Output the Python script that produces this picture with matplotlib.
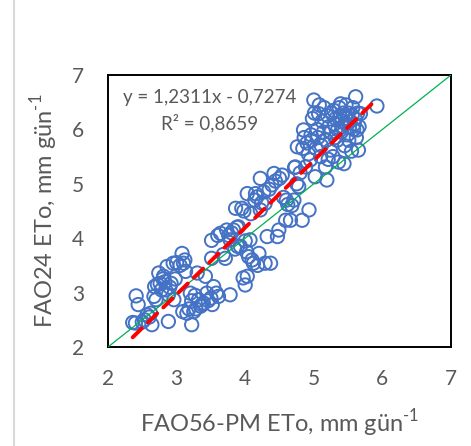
import matplotlib
matplotlib.use("Agg")
import matplotlib.pyplot as plt
import numpy as np
from matplotlib.lines import Line2D

# FAO56-PM ETo (x) vs FAO24 ETo (y), mm/day
fao56 = [
    2.36, 2.40, 2.41, 2.44, 2.50, 2.53, 2.57, 2.60, 2.64, 2.62, 2.67, 2.68, 2.70, 2.72, 2.74, 2.76,
    2.78, 2.80, 2.81, 2.83, 2.84, 2.86, 2.88, 2.88, 2.90, 2.92, 2.95, 2.96, 2.98, 3.00, 3.05, 3.08,
    3.10, 3.12, 3.09, 3.13, 3.15, 3.18, 3.20, 3.22, 3.22, 3.25, 3.27, 3.28, 3.30, 3.32, 3.35, 3.37,
    3.39, 3.42, 3.44, 3.46, 3.50, 3.52, 3.54, 3.58, 3.61, 3.78,
    3.51, 3.51, 3.60, 3.64, 3.68, 3.71, 3.73, 3.76, 3.78, 3.80, 3.83, 3.85, 3.86, 3.88, 3.89, 3.90,
    3.93, 3.95, 3.97, 3.98, 4.00, 4.00, 4.02, 4.03, 4.03, 4.05, 4.07, 4.08, 4.10, 4.12, 4.14, 4.15,
    4.17, 4.18, 4.20, 4.22, 4.22, 4.24, 4.27, 4.29, 4.29, 4.32, 4.35, 4.37, 4.39, 4.42, 4.44, 4.47,
    4.49, 4.50, 4.54, 4.56, 4.59, 4.60, 4.62, 4.66, 4.68,
    4.71, 4.72, 4.73, 4.75, 4.76, 4.78, 4.80, 4.83, 4.84, 4.85, 4.86, 4.88, 4.90, 4.92, 4.93, 4.95,
    4.96, 4.97, 4.98, 5.00, 5.01, 5.02, 5.03, 5.05, 5.06, 5.07, 5.08, 5.10, 5.11, 5.12, 5.14, 5.15,
    5.17, 5.18, 5.19, 5.20, 5.21, 5.22, 5.24, 5.25, 5.26, 5.28, 5.29, 5.30, 5.31, 5.32, 5.34, 5.35,
    5.36, 5.37, 5.38, 5.39, 5.40, 5.41, 5.42, 5.43, 5.44, 5.45, 5.46, 5.47, 5.48, 5.49, 5.50, 5.51,
    5.52, 5.53, 5.55, 5.56, 5.57, 5.58, 5.59, 5.60, 5.61, 5.62, 5.63, 5.64, 5.65, 5.66, 5.68, 5.92,
]
fao24 = [
    2.45, 2.44, 2.94, 2.78, 2.46, 2.50, 2.59, 2.55, 2.41, 2.62, 2.93, 3.11, 2.87, 3.15, 3.36, 3.17,
    3.05, 3.25, 3.30, 3.20, 3.05, 3.48, 2.96, 2.47, 3.10, 3.17, 3.54, 2.87, 3.25, 3.55, 3.50, 3.72,
    3.54, 3.60, 2.65, 3.39, 2.62, 2.70, 2.99, 2.41, 2.85, 2.65, 2.95, 2.70, 3.36, 2.87, 2.75, 2.78,
    2.81, 3.30, 2.99, 2.85, 2.90, 2.78, 3.11, 2.99, 2.93, 2.96,
    3.96, 3.63, 4.05, 4.09, 3.70, 3.63, 4.15, 4.05, 3.97, 4.10, 4.15, 3.80, 4.55, 4.20, 3.85, 4.21,
    3.85, 4.55, 3.27, 4.50, 3.14, 3.95, 3.75, 4.82, 3.30, 3.66, 3.97, 4.45, 3.60, 3.54, 4.70, 4.82,
    4.76, 3.50, 3.72, 5.10, 4.52, 4.65, 4.85, 3.54, 4.64, 4.03, 4.90, 3.54, 4.98, 5.19, 5.05, 4.03,
    4.15, 5.10, 5.16, 4.75, 4.33, 4.70, 4.62, 4.33, 4.60,
    4.70, 5.30, 5.31, 5.00, 5.68, 4.95, 5.20, 4.33, 5.65, 5.99, 5.85, 5.31, 5.75, 5.55, 4.52, 5.44,
    5.90, 5.80, 6.20, 6.54, 6.30, 5.13, 5.65, 6.00, 5.85, 6.29, 6.45, 5.50, 5.70, 6.15, 5.95, 6.40,
    5.31, 5.80, 5.07, 6.25, 5.45, 6.05, 5.62, 5.95, 6.30, 5.50, 6.35, 6.10, 5.85, 6.20, 5.80, 6.00,
    5.40, 6.40, 6.25, 6.47, 5.95, 6.15, 6.05, 6.30, 5.37, 5.70, 6.11, 6.45, 6.20, 5.90, 6.30, 5.80,
    6.05, 6.15, 5.60, 6.26, 6.40, 6.00, 6.10, 6.20, 6.60, 5.85, 5.99, 6.30, 5.62, 6.05, 6.29, 6.43,
]

slope = 1.2311
intercept = -0.7274
r2 = 0.8659
ticks = [2, 3, 4, 5, 6, 7]

plt.rcParams['font.family'] = ['Lato', 'DejaVu Sans']
plt.rcParams['mathtext.fontset'] = 'custom'
plt.rcParams['mathtext.rm'] = 'Lato'

grey = '#595959'
fig = plt.figure(figsize=(4.71, 4.46), dpi=100)
fig.patch.set_facecolor('white')
fig.add_artist(Line2D([14/471, 14/471], [0, 1], color='#d9d9d9', lw=1.5,
                      transform=fig.transFigure))
ax = fig.add_axes([108/471, 1 - 347/446, 343/471, 272/446])

ax.scatter(fao56, fao24, s=92, facecolors='none', edgecolors='#4472C4',
           linewidths=1.4, zorder=2)
ax.plot([2, 7], [2, 7], color='#00B050', lw=0.9, zorder=3)
xs = np.array([min(fao56), max(fao56)])
ax.plot(xs, slope * xs + intercept, color='#FF0000', lw=2.8,
        linestyle=(0, (3.3, 2.2)), dash_capstyle='round', zorder=4)

ax.set_xlim(2, 7)
ax.set_ylim(2, 7)
ax.set_xticks(ticks)
ax.set_yticks(ticks)
ax.tick_params(length=0, labelsize=15, colors=grey)
ax.tick_params(axis='y', pad=17)
ax.tick_params(axis='x', pad=16)
for sp in ax.spines.values():
    sp.set_color('black')
    sp.set_linewidth(1.4)

ax.set_xlabel(r'FAO56-PM ETo, mm gün$^{\text{-1}}$', fontsize=17, color=grey, labelpad=13)
ax.set_ylabel(r'FAO24 ETo, mm gün$^{\text{-1}}$', fontsize=17, color=grey, labelpad=9)

eq = f'y = {slope:.4f}x - {abs(intercept):.4f}'.replace('.', ',')
rr = f'R² = {r2:.4f}'.replace('.', ',')
ax.text(210, 446 - 97, eq, transform=None, fontsize=13.5, color=grey, ha='center', va='center')
ax.text(210, 446 - 123, rr, transform=None, fontsize=13.5, color=grey, ha='center', va='center')

fig.savefig('out.png', dpi=100)
